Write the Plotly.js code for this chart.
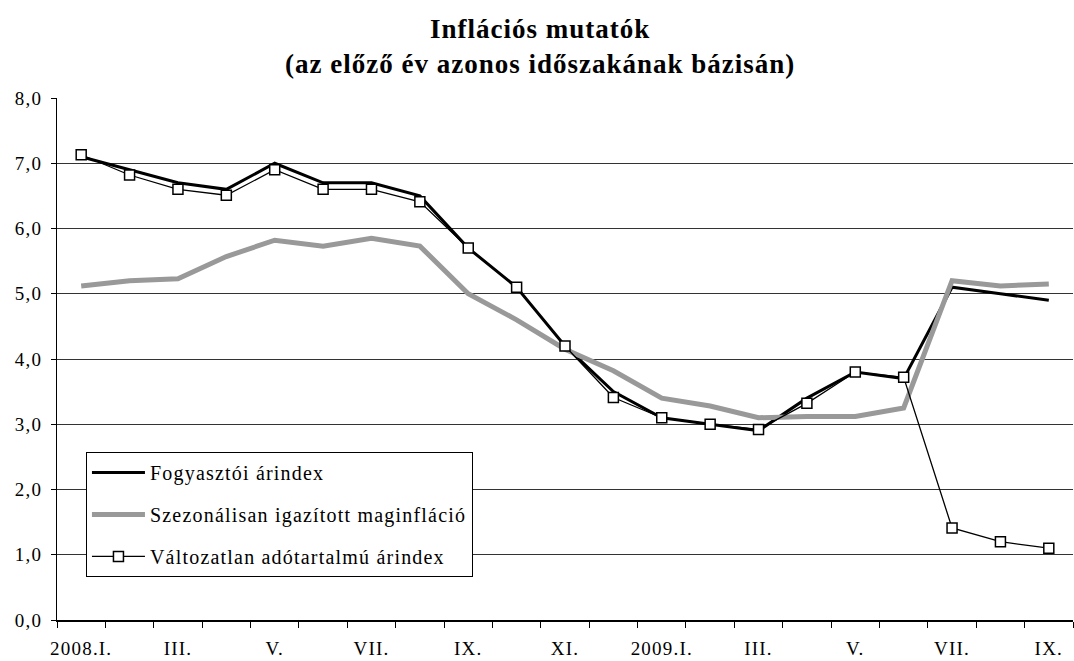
<!DOCTYPE html>
<html>
<head>
<meta charset="utf-8">
<script src="https://cdn.plot.ly/plotly-3.0.1.min.js"></script>
<style>
html,body{margin:0;padding:0;background:#fff;}
#chart{width:1074px;height:661px;}
svg text{letter-spacing:1.2px;}
svg text.gtitle{letter-spacing:1px;}
</style>
</head>
<body>
<div id="chart"></div>
<script>
const categories = ["2008.I.","2008.II.","2008.III.","2008.IV.","2008.V.","2008.VI.","2008.VII.","2008.VIII.","2008.IX.","2008.X.","2008.XI.","2008.XII.",
  "2009.I.","2009.II.","2009.III.","2009.IV.","2009.V.","2009.VI.","2009.VII.","2009.VIII.","2009.IX."];
const tickLabels = ["2008.I.","","III.","","V.","","VII.","","IX.","","XI.","",
  "2009.I.","","III.","","V.","","VII.","","IX."];
const cpi = [7.1,6.9,6.7,6.6,7.0,6.7,6.7,6.5,5.7,5.1,4.2,3.5,3.1,3.0,2.9,3.4,3.8,3.7,5.1,5.0,4.9];
const coreSA = [5.12,5.2,5.23,5.57,5.82,5.73,5.85,5.73,5.0,4.6,4.15,3.82,3.4,3.28,3.1,3.12,3.12,3.25,5.2,5.12,5.15];
const constTax = [7.13,6.82,6.6,6.51,6.9,6.6,6.6,6.41,5.7,5.1,4.2,3.41,3.1,3.0,2.92,3.32,3.8,3.72,1.41,1.2,1.1];

const seriesNames = ["Fogyasztói árindex","Szezonálisan igazított maginfláció","Változatlan adótartalmú árindex"];

const font = "Liberation Serif, Times New Roman, serif";

const traces = [
  {x: categories, y: cpi, name: seriesNames[0], legendgroup: "a", type: "scatter", mode: "lines",
   line: {color: "#000000", width: 3}},
  {x: categories, y: coreSA, name: seriesNames[1], legendgroup: "b", type: "scatter", mode: "lines",
   line: {color: "#999999", width: 5}},
  {x: categories, y: constTax, name: seriesNames[2], legendgroup: "c", type: "scatter", mode: "lines+markers",
   line: {color: "#000000", width: 1.3},
   marker: {symbol: "square", size: 10, color: "#ffffff", line: {color: "#000000", width: 1.5}}}
];

const layout = {
  width: 1074, height: 661,
  margin: {l: 57, r: 1, t: 98, b: 41},
  paper_bgcolor: "#ffffff", plot_bgcolor: "#ffffff",
  separators: ",.",
  font: {family: font, size: 19, color: "#000000"},
  title: {text: "<b>Inflációs mutatók<br>(az előző év azonos időszakának bázisán)</b>",
          font: {family: font, size: 27, color: "#000000"}, x: 0.503, xanchor: "center", y: 0.943, yanchor: "top"},
  showlegend: true,
  legend: {x: 0.0285, y: 0.322, xanchor: "left", yanchor: "top", bgcolor: "#ffffff",
           bordercolor: "#000000", borderwidth: 1, font: {family: font, size: 20, color: "#000000"},
           tracegroupgap: 13, traceorder: "grouped", itemwidth: 53},
  xaxis: {type: "category", tickmode: "array", tickvals: categories, ticktext: tickLabels, tickangle: 0,
          tickson: "boundaries", ticks: "outside", ticklen: 6, tickcolor: "#000000",
          ticklabelstandoff: 11,
          showline: true, linecolor: "#000000", linewidth: 1.5, showgrid: false, zeroline: false,
          tickfont: {family: font, size: 19, color: "#000000"}, range: [-0.5, 20.5], fixedrange: true},
  yaxis: {range: [0, 8], dtick: 1, tickformat: ".1f", ticks: "outside", ticklen: 5, tickcolor: "#000000",
          ticklabelstandoff: 5,
          showline: true, linecolor: "#000000", linewidth: 1, showgrid: true, gridcolor: "#000000", gridwidth: 0.8,
          zeroline: false, tickfont: {family: font, size: 19, color: "#000000"}, fixedrange: true}
};

Plotly.newPlot("chart", traces, layout, {displayModeBar: false, staticPlot: true});
</script>
</body>
</html>
